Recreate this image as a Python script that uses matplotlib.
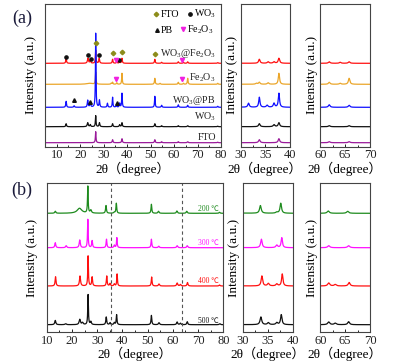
import numpy as np
import matplotlib
matplotlib.use("Agg")
import matplotlib.pyplot as plt
from matplotlib.ticker import MultipleLocator

plt.rcParams['font.family'] = ['Liberation Serif', 'Noto Sans CJK SC', 'DejaVu Sans']
plt.rcParams['mathtext.fontset'] = 'custom'
plt.rcParams['mathtext.rm'] = 'Liberation Serif'
plt.rcParams['mathtext.it'] = 'Liberation Serif:italic'

# ---------------- data (peak lists, heights in px) ----------------
# panel (a)
a_names = ['WO$_3$@Fe$_2$O$_3$', 'Fe$_2$O$_3$', 'WO$_3$@PB', 'WO$_3$', 'FTO']
a_colors = ['#FF1010', '#EBA62A', '#1010FF', '#111111', '#9A1A9A']
a_base = [83.4, 62.4, 39.4, 20.0, 4.0]
a_pos = [
    [14.0, 23.3, 24.3, 26.6, 28.1, 33.8, 35.6, 36.8, 37.8, 51.8, 54.7, 61.8, 64.0, 65.8, 78.6],
    [24.0, 26.6, 33.2, 33.8, 35.6, 37.8, 51.8, 54.0, 61.8, 64.0, 65.8, 78.6],
    [14.0, 17.4, 23.2, 24.3, 26.6, 28.2, 31.6, 33.8, 35.4, 36.8, 37.8, 51.8, 54.7, 61.8, 65.8, 78.6],
    [14.0, 23.2, 24.3, 26.6, 28.2, 33.8, 36.8, 37.8, 51.8, 54.7, 61.8, 65.8, 78.6],
    [26.6, 33.8, 37.8, 51.8, 54.7, 61.8, 65.8, 78.6],
]
a_h = [
    [5, 5, 3, 13, 5, 4, 1.5, 1.5, 5, 4, 1, 1.5, 1, 1.5, 0.7],
    [1, 12, 1, 2, 1.5, 11, 6, 1, 2, 1, 6, 1],
    [6, 1.5, 7, 5, 74, 7, 4, 10, 2, 4, 14, 11, 2, 2.5, 2, 1],
    [3, 4, 2, 11, 4, 3, 2, 4, 3, 1, 1, 1, 0.5],
    [11, 3, 4, 3, 1, 1, 1, 0.5],
]
a_w = [
    [0.18, 0.25, 0.2, 0.15, 0.2, 0.18, 0.2, 0.2, 0.18, 0.18, 0.2, 0.2, 0.2, 0.2, 0.2],
    [1.5, 0.15, 0.2, 0.18, 0.2, 0.15, 0.18, 0.2, 0.2, 0.2, 0.18, 0.2],
    [0.18, 0.2, 0.2, 0.2, 0.13, 0.18, 0.18, 0.15, 0.2, 0.18, 0.15, 0.15, 0.2, 0.2, 0.2, 0.2],
    [0.18, 0.25, 0.2, 0.15, 0.2, 0.18, 0.2, 0.18, 0.18, 0.2, 0.2, 0.2, 0.2],
    [0.15, 0.18, 0.18, 0.18, 0.2, 0.2, 0.2, 0.2],
]
a_label_y = [93.5, 68.5, 46.5, 29.5, 9.5]

# phase markers in panel (a): positions (deg) and heights (px from bottom)
fto_x = [26.6, 33.8, 37.8, 51.8]
fto_y = [103.4, 93.4, 94.4, 92.4]
wo3_x = [13.9, 23.4, 24.6, 28.0, 36.6]
wo3_y = [90.0, 91.7, 87.4, 91.7, 86.7]
pb_x = [17.3, 24.1, 35.5]
pb_y = [46.7, 45.0, 44.0]
fe_x = [35.2, 63.3, 35.2, 63.3]
fe_y = [86.7, 86.7, 67.7, 67.4]

# panel (b)
b_names = ['200 ℃', '300 ℃', '400 ℃', '500 ℃']
b_colors = ['#1E8B1E', '#FF10FF', '#FF1010', '#111111']
b_base = [118.7, 84.3, 46.0, 7.3]
b_pos = [
    [13.4, 23.0, 26.3, 27.5, 33.5, 36.8, 37.6, 51.5, 54.3, 61.6, 65.5, 78.5],
    [13.4, 17.7, 23.1, 26.3, 28.0, 33.7, 36.8, 37.8, 51.5, 54.4, 61.7, 65.7],
    [13.5, 23.2, 26.4, 28.0, 33.8, 35.1, 36.8, 37.9, 51.6, 54.5, 61.7, 63.0, 65.8, 78.5],
    [13.4, 17.5, 23.1, 24.2, 26.4, 27.5, 33.6, 35.1, 36.8, 37.7, 51.5, 54.5, 61.7, 63.0, 65.7, 78.6],
]
b_h = [
    [2, 5, 26.7, 3, 7.7, 1, 10, 9, 2, 2.3, 2, 1],
    [5, 2, 7.7, 28.3, 7, 8.5, 2.5, 10, 8.5, 1.5, 2, 2],
    [9.3, 10, 30, 9, 10, 2.5, 2, 12, 9, 2, 3, 1.5, 3.5, 1],
    [4.3, 1, 5.3, 2, 30, 3, 7.7, 2, 2, 10, 9.3, 2, 2.7, 1.5, 3, 1],
]
b_w = [
    [0.25, 1.1, 0.15, 0.3, 0.2, 0.25, 0.18, 0.18, 0.25, 0.25, 0.25, 0.25],
    [0.22, 0.25, 0.25, 0.15, 0.2, 0.18, 0.22, 0.16, 0.18, 0.25, 0.25, 0.25],
    [0.2, 0.25, 0.15, 0.2, 0.18, 0.22, 0.22, 0.16, 0.18, 0.25, 0.25, 0.25, 0.22, 0.25],
    [0.25, 0.3, 0.3, 0.3, 0.15, 0.25, 0.2, 0.22, 0.22, 0.17, 0.18, 0.25, 0.25, 0.25, 0.22, 0.25],
]
b_label_y = [123.0, 89.3, 51.0, 11.3]
b_dash_x = [35.6, 63.6]

# ---------------- drawing ----------------
x = np.linspace(5, 80, 6001)


def profile(pos, h, w, base):
    y = np.full_like(x, base)
    for p, hh, ww in zip(pos, h, w):
        y += hh * ww ** 2 / ((x - p) ** 2 + ww ** 2)
    return y


fig = plt.figure(figsize=(4.04, 3.63), dpi=100)
W, H = 404.0, 363.0


def rect(l, r, t, b):
    return [l / W, 1 - b / H, (r - l) / W, (b - t) / H]


spine_col = '#444444'


def style(ax, xlim, major, minor, ylim, fs=9):
    ax.set_xlim(*xlim)
    ax.set_ylim(*ylim)
    ax.xaxis.set_major_locator(MultipleLocator(major))
    ax.xaxis.set_minor_locator(MultipleLocator(minor))
    ax.set_yticks([])
    ax.tick_params(axis='x', which='major', direction='in', length=2.5, width=0.7,
                   labelsize=fs, pad=2, colors='#222222')
    ax.tick_params(axis='x', which='minor', direction='in', length=1.5, width=0.6)
    for s in ax.spines.values():
        s.set_color(spine_col)
        s.set_linewidth(0.8)
    ax.set_xlabel('2θ（degree）', fontsize=9.5, labelpad=0)
    ax.set_ylabel('Intensity (a.u.)', fontsize=9.5, labelpad=2)


ylim_a = (0, 142.7)
ylim_b = (0, 148.7)

ax_a = fig.add_axes(rect(45, 221, 4, 146.7))
ax_a2 = fig.add_axes(rect(240.7, 289.7, 4, 146.7))
ax_a3 = fig.add_axes(rect(320.3, 370, 4, 146.7))
ax_b = fig.add_axes(rect(46.7, 223.3, 183.3, 332))
ax_b2 = fig.add_axes(rect(243, 292.7, 183.3, 332))
ax_b3 = fig.add_axes(rect(320.3, 370, 183.3, 332))

for ax in (ax_a, ax_a2, ax_a3):
    for pos, h, w, base, c in zip(a_pos, a_h, a_w, a_base, a_colors):
        ax.plot(x, profile(pos, h, w, base), color=c, lw=0.9)
for ax in (ax_b, ax_b2, ax_b3):
    for pos, h, w, base, c in zip(b_pos, b_h, b_w, b_base, b_colors):
        ax.plot(x, profile(pos, h, w, base), color=c, lw=0.9)

style(ax_a, (5, 80), 10, 5, ylim_a)
style(ax_a2, (30, 40), 5, 2.5, ylim_a)
style(ax_a3, (60, 70), 5, 2.5, ylim_a)
style(ax_b, (10, 80), 10, 5, ylim_b)
style(ax_b2, (30, 40), 5, 2.5, ylim_b)
style(ax_b3, (60, 70), 5, 2.5, ylim_b)
ax_a.yaxis.labelpad = 6
ax_b.yaxis.labelpad = 6

# series labels
for name, yy in zip(a_names, a_label_y):
    ax_a.text(77.8, yy, name, ha='right', va='center', fontsize=7.2, color='#222222')
for name, yy, c in zip(b_names, b_label_y, b_colors):
    ax_b.text(78.2, yy, name, ha='right', va='center', fontsize=5.5, color=c)

# dashed guide lines in (b)
for xd in b_dash_x:
    ax_b.axvline(xd, color='#555555', lw=0.8, ls=(0, (3, 2.5)))

# phase markers
fto_c = '#8C8C1A'
fe_c = '#F020E0'
ax_a.plot(fto_x, fto_y, ls='none', marker='D', ms=2.3, color=fto_c)
ax_a.plot(wo3_x, wo3_y, ls='none', marker='o', ms=2.3, color='#111111')
ax_a.plot(pb_x, pb_y, ls='none', marker='^', ms=2.6, color='#111111')
ax_a.plot(fe_x, fe_y, ls='none', marker='v', ms=3.0, color=fe_c)

# legend (a)
ax_a.plot([52.2], [132.7], marker='D', ms=2.3, color=fto_c)
ax_a.text(54.2, 132.7, 'FTO', ha='left', va='center', fontsize=7.2)
ax_a.plot([66.9], [132.7], marker='o', ms=2.4, color='#111111')
ax_a.text(68.6, 132.7, 'WO$_3$', ha='left', va='center', fontsize=7.2)
ax_a.plot([52.6], [116.7], marker='^', ms=2.6, color='#111111')
ax_a.text(54.4, 116.7, 'PB', ha='left', va='center', fontsize=7.2)
ax_a.plot([63.6], [117.4], marker='v', ms=3.0, color=fe_c)
ax_a.text(65.6, 117.4, 'Fe$_2$O$_3$', ha='left', va='center', fontsize=7.2)

# panel letters
fig.text(22 / W, 1 - 18 / H, '(a)', ha='center', va='center', fontsize=13, color='#1a1a3a')
fig.text(22 / W, 1 - 190 / H, '(b)', ha='center', va='center', fontsize=13, color='#1a1a3a')

fig.savefig('out.png', dpi=100)
